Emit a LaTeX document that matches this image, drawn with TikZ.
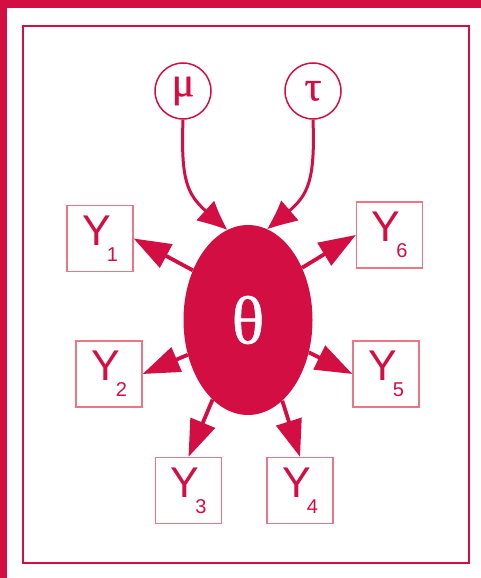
\documentclass[tikz,border=0pt]{standalone}
\usepackage{fontspec}
\setmainfont{Liberation Sans}
\newfontfamily\greekfont[FakeBold=0.8]{Liberation Serif}
\usetikzlibrary{arrows.meta,bending,shapes.geometric}
\definecolor{crim}{RGB}{210,14,67}
\definecolor{crimlight}{RGB}{234,118,134}
\tikzset{
  obsbox/.style={draw=crimlight, line width=1.3pt, minimum width=66pt, minimum height=66pt,
                 inner sep=0pt, text=crim},
  hyper/.style={circle, draw=crim, line width=1.5pt, minimum size=56pt, inner sep=0pt,
                text=crim, font=\greekfont\fontsize{42}{42}\selectfont},
  link/.style={draw=crim, line width=3.8pt, -{Triangle[length=37pt,width=26pt]}},
  curvelink/.style={draw=crim, line width=3pt, -{Triangle[length=33pt,width=25pt,bend]}}
}
\newcommand{\ylab}[1]{\fontsize{43}{43}\selectfont Y\kern-4pt\raisebox{-16pt}{\fontsize{20}{20}\selectfont #1}}
\begin{document}
\begin{tikzpicture}[x=1pt,y=1pt]
  % page frame: crimson band on top and left
  \fill[crim] (0,0) rectangle (481,578);
  \fill[white] (7,0) rectangle (481,570);
  \useasboundingbox (0,0) rectangle (481,578);
  % plate
  \draw[crim, line width=2pt] (23,15) rectangle (469,552);

  % hyperparameters
  \node[hyper] (mu)  at (183,487) {μ};
  \node[hyper] (tau) at (313,487) {τ};

  % latent parameter
  \node[ellipse, fill=crim, minimum width=129pt, minimum height=190pt, inner sep=0pt,
        text=white, font=\greekfont\fontsize{68}{68}\selectfont] (th) at (248,258) {θ};

  % observations
  \node[obsbox] (y1) at (100,339.5) {\ylab{1}};
  \node[obsbox] (y2) at (109,204)   {\ylab{2}};
  \node[obsbox] (y3) at (188.5,87.5) {\ylab{3}};
  \node[obsbox] (y4) at (300,87.5)  {\ylab{4}};
  \node[obsbox] (y5) at (386,204)   {\ylab{5}};
  \node[obsbox] (y6) at (389.5,343) {\ylab{6}};

  % priors into theta
  \draw[curvelink] (mu.south)  .. controls +(-3,-80) and +(-35,32) .. (th.103);
  \draw[curvelink] (tau.south) .. controls +(3,-80) and +(35,30) .. (th.78);

  % theta to observations
  \draw[link] (th.138) -- (y1.east);
  \draw[link] (th.210) -- (y2.east);
  \draw[link] (th.246) -- (y3.north);
  \draw[link] (th.293) -- (y4.north);
  \draw[link] (th.332) -- (y5.west);
  \draw[link] (th.44)  -- (y6.west);
\end{tikzpicture}
\end{document}
